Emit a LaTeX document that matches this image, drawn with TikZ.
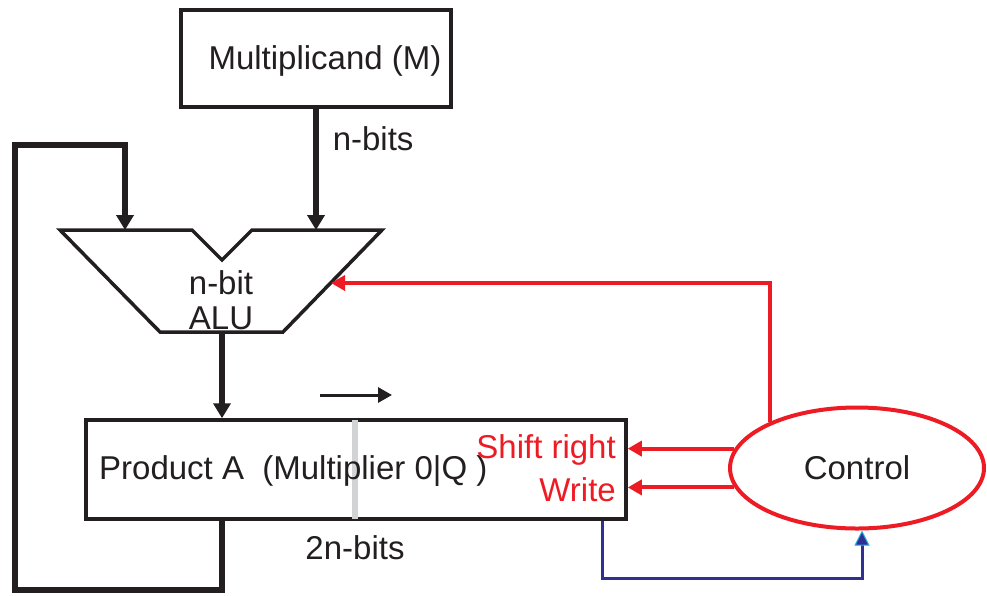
\documentclass[tikz,border=0pt]{standalone}
\usepackage{fontspec}
\setmainfont{Liberation Sans}
\usetikzlibrary{arrows.meta,shapes.geometric}

\definecolor{inkblack}{HTML}{231F20}
\definecolor{sigred}{HTML}{ED1C24}
\definecolor{sensblue}{HTML}{2E3192}
\definecolor{tipcyan}{HTML}{29ABE2}
\definecolor{divgray}{HTML}{D1D3D4}

\tikzset{
  every node/.style={font=\fontsize{33}{35}\selectfont, text=inkblack},
  reg/.style={draw=inkblack, line width=3.5pt, fill=white, inner sep=0pt},
  bus/.style={draw=inkblack, line width=5.5pt, line join=miter,
    -{Triangle[length=15pt,width=17pt]}},
  ctl/.style={draw=sigred, line width=4pt, line join=miter,
    -{Triangle[length=14pt,width=15pt]}},
  sense/.style={draw=sensblue, line width=3pt, line join=miter,
    -{Triangle[length=15pt,width=15pt,color=tipcyan,fill=sensblue,line width=1pt]}},
  sig/.style={text=sigred, inner sep=0pt}
}

\begin{document}
\begin{tikzpicture}[x=1pt,y=-1pt]
  \useasboundingbox (0,0) rectangle (987,595);

  \node[reg, minimum width=270pt, minimum height=97pt] (mcand) at (316,58.5) {};
  \node[inner sep=0pt] (mcandtxt) at (325,61) {Multiplicand (M)};

  \coordinate (alutl) at (60,230);
  \coordinate (alunl) at (192,230);
  \coordinate (alunb) at (222,260);
  \coordinate (alunr) at (252,230);
  \coordinate (alutr) at (382,230);
  \coordinate (alubr) at (283,332);
  \coordinate (alubl) at (160,332);
  \draw[draw=inkblack, line width=3.5pt, fill=white]
    (alutl) -- (alunl) -- (alunb) -- (alunr) -- (alutr) -- (alubr) -- (alubl) -- cycle;
  \node[align=center, inner sep=0pt] (alu) at (221,300) {n-bit\\ALU};

  \node[reg, minimum width=540pt, minimum height=99pt] (prod) at (356,469.5) {};
  \draw[divgray, line width=6pt] ([yshift=-2pt]prod.north -| 355,0) -- ([yshift=2pt]prod.south -| 355,0);
  \node[anchor=west, inner sep=0pt] (prodtxt) at (99,471) {Product A\ \ (Multiplier 0|Q )};
  \node[sig, anchor=east] (shift) at (616,450) {Shift right};
  \node[sig, anchor=east] (write) at (616,490) {Write};

  \node[ellipse, draw=sigred, line width=4pt, minimum width=254pt, minimum height=121pt,
    inner sep=0pt] (ctrl) at (857,468) {Control};

  \coordinate (aina) at (125,230);
  \coordinate (looptl) at (15,145);
  \coordinate (loopbl) at (15,590);
  \coordinate (alurin) at (331,283);
  \coordinate (shs) at (320,395);
  \coordinate (she) at (392,395);

  \draw[bus] (mcand.south) -- (mcand.south |- alutl)
    node[pos=0.25, right=14pt, inner sep=0pt] (nbits) {n-bits};
  \draw[bus] (prod.south -| alunb) |- (loopbl) -- (looptl) -| (aina);
  \draw[bus] (alubl -| alunb) -- (prod.north -| alunb);
  \draw[draw=inkblack, line width=3pt, -{Triangle[length=14pt,width=15pt]}] (shs) -- (she);
  \node[inner sep=0pt] (twon) at (355,548) {2n-bits};

  \draw[ctl] (ctrl.152) |- (alurin);
  \draw[ctl] (ctrl.171) -- (ctrl.171 -| prod.east);
  \draw[ctl] (ctrl.189) -- (ctrl.189 -| prod.east);

  \draw[sense] ([xshift=-25pt]prod.south east) -- ++(0,58) -| ([xshift=5pt]ctrl.south);
\end{tikzpicture}
\end{document}
